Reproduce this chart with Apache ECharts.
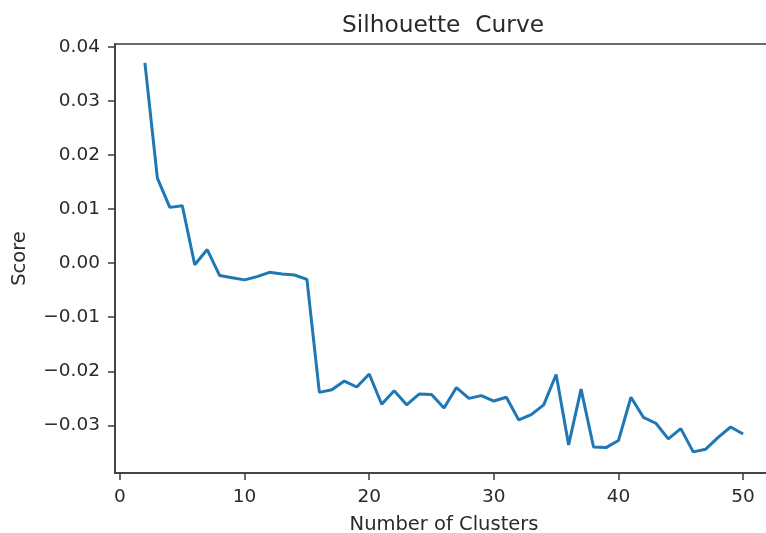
<!DOCTYPE html>
<html>
<head>
<meta charset="utf-8">
<script src="https://cdn.jsdelivr.net/npm/echarts@6/dist/echarts.min.js"></script>
<style>
html,body{margin:0;padding:0;background:#fff;}
#chart{width:766px;height:533px;}
</style>
</head>
<body>
<div id="chart"></div>
<script>
const clusters = [2,3,4,5,6,7,8,9,10,11,12,13,14,15,16,17,18,19,20,21,22,23,24,25,26,27,28,29,30,31,32,33,34,35,36,37,38,39,40,41,42,43,44,45,46,47,48,49,50];
const scores = [0.0370,0.0157,0.0103,0.0106,-0.0003,0.0025,-0.0023,-0.0027,-0.0031,-0.0025,-0.0017,-0.0020,-0.0022,-0.0030,
  -0.0239,-0.0234,-0.0218,-0.0229,-0.0205,-0.0261,-0.0236,-0.0262,-0.0242,-0.0243,-0.0268,-0.0230,-0.0250,-0.0245,-0.0255,-0.0248,
  -0.0290,-0.0280,-0.0262,-0.0206,-0.0336,-0.0233,-0.0340,-0.0341,-0.0328,-0.0248,-0.0285,-0.0296,-0.0325,-0.0306,-0.0349,-0.0344,-0.0322,-0.0303,-0.0316];
const xTicks = [0,10,20,30,40,50];
const yTicks = [-0.03,-0.02,-0.01,0.00,0.01,0.02,0.03,0.04];
const titleText = 'Silhouette  Curve';
const xName = 'Number of Clusters';
const yName = 'Score';

const font = 'DejaVu Sans';
const txt = '#2a2a2a';
const axisCol = '#3a3a3a';

const chart = echarts.init(document.getElementById('chart'), null, {renderer:'canvas'});
chart.setOption({
  animation: false,
  backgroundColor: '#fff',
  title: {
    text: titleText, left: 438, top: 9, textAlign: 'center',
    textStyle: {fontFamily: font, fontSize: 23.3, fontWeight: 'normal', color: txt}
  },
  grid: {
    left: 115, top: 44, width: 658, height: 429,
    outerBoundsMode: 'none', containLabel: false,
    show: true, borderColor: axisCol, borderWidth: 1.5, backgroundColor: 'transparent'
  },
  xAxis: {
    type: 'value', min: -0.4, max: 52.4,
    name: xName, nameLocation: 'middle', nameGap: 42,
    nameTextStyle: {fontFamily: font, fontSize: 19.5, color: txt},
    splitLine: {show: false},
    axisLine: {show: true, onZero: false, lineStyle: {color: axisCol, width: 1.5}},
    axisTick: {show: true, length: 7, customValues: xTicks, lineStyle: {color: axisCol, width: 1.5}},
    axisLabel: {customValues: xTicks, margin: 15, fontFamily: font, fontSize: 18.5, color: txt,
      formatter: v => String(v)}
  },
  yAxis: {
    type: 'value', min: -0.0388, max: 0.0405,
    name: yName, nameLocation: 'middle', nameGap: 85, nameRotate: 90,
    nameTextStyle: {fontFamily: font, fontSize: 19.5, color: txt},
    splitLine: {show: false},
    axisLine: {show: true, onZero: false, lineStyle: {color: axisCol, width: 1.5}},
    axisTick: {show: true, length: 7, customValues: yTicks, lineStyle: {color: axisCol, width: 1.5}},
    axisLabel: {customValues: yTicks, margin: 15, fontFamily: font, fontSize: 18.5, color: txt,
      formatter: v => (v < -1e-9 ? '\u2212' : '') + Math.abs(v).toFixed(2)}
  },
  series: [{
    type: 'line',
    data: clusters.map((c, i) => [c, scores[i]]),
    showSymbol: false,
    symbol: 'none',
    lineStyle: {color: '#1f77b4', width: 3},
    itemStyle: {color: '#1f77b4'}
  }]
});
</script>
</body>
</html>
